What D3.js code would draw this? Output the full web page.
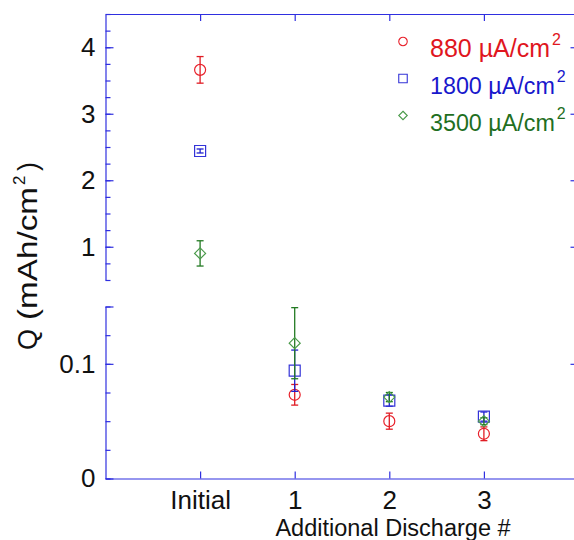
<!DOCTYPE html>
<html><head><meta charset="utf-8">
<script src="https://cdn.jsdelivr.net/npm/d3@7"></script>
<style>
body{margin:0;background:#fff}
svg{display:block}
text{font-family:"Liberation Sans",Arial,Helvetica,sans-serif}
</style>
</head><body>
<svg id="chart" width="574" height="540"></svg>
<script>
// Discharge capacity data
const categories = ["Initial", "1", "2", "3"];
const positions = [1, 2, 3, 4];
const seriesNames = ["880 µA/cm", "1800 µA/cm", "3500 µA/cm"];
const q880 = [3.66, 0.073, 0.050, 0.039];
const e880 = [0.20, 0.009, 0.007, 0.006];
const q1800 = [2.44, 0.094, 0.068, 0.054];
const e1800 = [0.03, 0.018, 0.005, 0.004];
const q3500 = [0.90, 0.118, 0.071, 0.050];
const e3500 = [0.19, 0.031, 0.004, 0.003];
const upperTicks = [1, 2, 3, 4];
const lowerTicks = [0, 0.1];

const axisColor = "#2f2fe0";
const styles = [
  {marker: "circle", stroke: "#e8202a", err: "#e01c24", text: "#e0161e", font: 25},
  {marker: "square", stroke: "#3434d8", err: "#2020d0", text: "#1818cc", font: 23.3},
  {marker: "diamond", stroke: "#4a9a4a", err: "#237a23", text: "#1f6f1f", font: 23.3}
];
const data = [
  {q: q880, e: e880},
  {q: q1800, e: e1800},
  {q: q3500, e: e3500}
];

const svg = d3.select("#chart");
const xLeft = 105.5, xRight = 578.5;
const x = d3.scaleLinear().domain([0, 5]).range([xLeft, xRight]);
const yUp = d3.scaleLinear().domain([0.5, 4.5]).range([280, 14]);
const yLow = d3.scaleLinear().domain([0, 0.15]).range([478.5, 306.5]);

function styleAxis(g) {
  g.selectAll("path.domain").attr("stroke", axisColor).attr("stroke-width", 1.2);
  g.selectAll(".tick line").attr("stroke", axisColor).attr("stroke-width", 1.2);
  g.selectAll(".tick text").attr("fill", "#111").style("font-size", "26px")
    .style("font-family", '"Liberation Sans",Arial,sans-serif');
}

// Upper panel: left axis, minor ticks then major ticks with labels
const upMinor = d3.range(0.5, 4.5001, 0.25);
svg.append("g").attr("transform", `translate(${xLeft},0)`)
  .call(d3.axisLeft(yUp).tickValues(upMinor).tickSize(-5).tickSizeOuter(0).tickFormat(""))
  .call(styleAxis);
svg.append("g").attr("transform", `translate(${xLeft},0)`)
  .call(d3.axisLeft(yUp).tickValues(upperTicks).tickSize(-8).tickPadding(10).tickFormat(d3.format("d")))
  .call(g => g.select("path.domain").remove())
  .call(styleAxis);
// Upper panel: right axis
svg.append("g").attr("transform", `translate(${xRight},0)`)
  .call(d3.axisRight(yUp).tickValues(upperTicks).tickSize(-8).tickSizeOuter(0).tickFormat(""))
  .call(styleAxis);

// Lower panel: left axis
const lowMinor = d3.range(0, 0.1501, 0.025);
svg.append("g").attr("transform", `translate(${xLeft},0)`)
  .call(d3.axisLeft(yLow).tickValues(lowMinor).tickSize(-5).tickSizeOuter(0).tickFormat(""))
  .call(styleAxis);
svg.append("g").attr("transform", `translate(${xLeft},0)`)
  .call(d3.axisLeft(yLow).tickValues(lowerTicks.concat([0.15])).tickSize(-8).tickPadding(10)
    .tickFormat(d => lowerTicks.includes(d) ? (d === 0 ? "0" : String(d)) : ""))
  .call(g => g.select("path.domain").remove())
  .call(styleAxis);
svg.append("g").attr("transform", `translate(${xRight},0)`)
  .call(d3.axisRight(yLow).tickValues([0.1]).tickSize(-8).tickSizeOuter(0).tickFormat(""))
  .call(styleAxis);

// Top and bottom x axes
svg.append("g").attr("transform", `translate(0,${yUp(4.5)})`)
  .call(d3.axisTop(x).tickValues(positions).tickSize(-7).tickSizeOuter(0).tickFormat(""))
  .call(styleAxis);
svg.append("g").attr("transform", `translate(0,${yLow(0)})`)
  .call(d3.axisBottom(x).tickValues(positions).tickSize(-7).tickSizeOuter(0).tickPadding(12)
    .tickFormat((d, i) => categories[i]))
  .call(styleAxis);

// Y axis title, built from pieces along the rotated baseline
const yTitle = svg.append("g").attr("transform", "translate(37,350) rotate(-90)")
  .attr("fill", "#111");
yTitle.append("text").attr("x", 0).attr("y", 0).style("font-size", "27px").text("Q");
yTitle.append("text").attr("x", 30).attr("y", 0).style("font-size", "27px")
  .attr("textLength", 133).attr("lengthAdjust", "spacingAndGlyphs").text("(mAh/cm");
yTitle.append("text").attr("x", 165).attr("y", -12).style("font-size", "17px").text("2");
yTitle.append("text").attr("x", 179).attr("y", 0).style("font-size", "27px").text(")");

// X axis title
svg.append("text")
  .attr("x", 393).attr("y", 536).attr("text-anchor", "middle")
  .attr("fill", "#111").style("font-size", "23.5px").text("Additional Discharge #");

// Markers
function markerPath(type, size) {
  const h = size / 2;
  if (type === "square") return `M${-h},${-h}H${h}V${h}H${-h}Z`;
  if (type === "diamond") return `M0,${-h}L${h},0L0,${h}L${-h},0Z`;
  return d3.symbol(d3.symbolCircle, Math.PI * h * h)();
}

data.forEach((s, si) => {
  const st = styles[si];
  const g = svg.append("g");
  positions.forEach((p, i) => {
    const v = s.q[i], e = s.e[i];
    const sc = v >= 0.4 ? yUp : yLow;
    const cx = x(p);
    const y1 = sc(v - e), y2 = sc(v + e);
    g.append("line").attr("x1", cx).attr("x2", cx).attr("y1", y1).attr("y2", y2)
      .attr("stroke", st.err).attr("stroke-width", 1.3);
    [y1, y2].forEach(yy => g.append("line").attr("x1", cx - 3.5).attr("x2", cx + 3.5)
      .attr("y1", yy).attr("y2", yy).attr("stroke", st.err).attr("stroke-width", 1.3));
    g.append("path").attr("d", markerPath(st.marker, 11))
      .attr("transform", `translate(${cx},${sc(v)})`)
      .attr("fill", "none").attr("stroke", st.stroke).attr("stroke-width", 1.2);
  });
});

// Legend
const legY = [41.5, 78.5, 115.5];
seriesNames.forEach((name, i) => {
  const st = styles[i];
  svg.append("path").attr("d", markerPath(st.marker, 8.5))
    .attr("transform", `translate(403,${legY[i]})`)
    .attr("fill", "none").attr("stroke", st.stroke).attr("stroke-width", 1.1);
  const label = svg.append("text").attr("x", 430).attr("y", legY[i] + 15.5)
    .attr("fill", st.text).style("font-size", st.font + "px").text(name);
  const w = label.node().getComputedTextLength();
  svg.append("text").attr("x", 430 + w + 2).attr("y", legY[i] + 3)
    .attr("fill", st.text).style("font-size", "16px").text("2");
});
</script>
</body></html>
